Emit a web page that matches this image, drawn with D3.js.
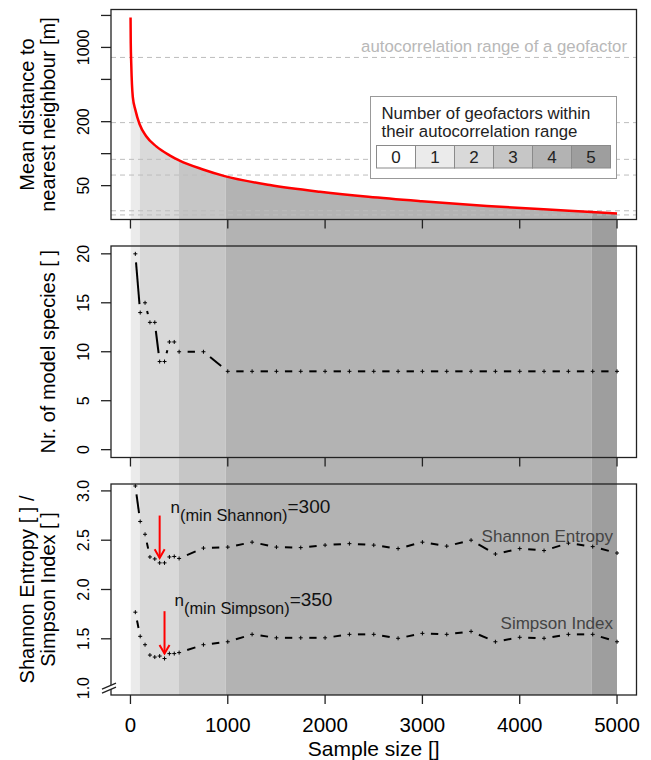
<!DOCTYPE html>
<html>
<head>
<meta charset="utf-8">
<script src="https://cdn.jsdelivr.net/npm/d3@7"></script>
<style>
  body { margin: 0; background: #fff; }
  svg { font-family: 'Liberation Sans', Arial, sans-serif; }
</style>
</head>
<body>
<svg width="651" height="760"></svg>
<script>
// sample sizes of the model runs
const sampleSizes = [50,100,150,200,250,300,350,400,450,500,750,1000,1250,1500,1750,2000,2250,2500,2750,3000,3250,3500,3750,4000,4250,4500,4750,5000];
const nrSpecies = [20,14,15,13,13,9,9,11,11,10,10,8,8,8,8,8,8,8,8,8,8,8,8,8,8,8,8,8];
const shannon = [3.05,2.69,2.56,2.33,2.31,2.27,2.27,2.33,2.335,2.315,2.42,2.43,2.48,2.43,2.425,2.45,2.465,2.45,2.415,2.48,2.44,2.50,2.36,2.415,2.395,2.47,2.435,2.37];
const simpson = [1.77,1.525,1.44,1.335,1.315,1.325,1.30,1.35,1.35,1.36,1.44,1.47,1.545,1.51,1.51,1.51,1.545,1.545,1.505,1.555,1.545,1.575,1.47,1.515,1.505,1.545,1.545,1.47];

// mean distance to nearest neighbour [m]
const distN = [1,3,8,24,51,93,162,265,402,505,745,968,1432,1946,2444,2994,3663,4246,4693,5000];
const distM = [1915,1100,707,343,257,190,146,117,96.5,86,71,61.5,50.7,43.8,39.2,35.6,32.2,29.9,28.4,27.4];

// autocorrelation ranges of the geofactors [m]
const autocorRanges = [805,196,88.4,62.9,29.0,26.5];

// number of geofactors within their autocorrelation range along the sample size
const levelBreaks = [0,97,498,978,4737,5000];
const levelValues = [1,2,3,4,5];
const legendLevels = [0,1,2,3,4,5];
const levelColors = ['#ffffff','#ebebeb','#d9d9d9','#c6c6c6','#b3b3b3','#9e9e9e'];

const xTicks = [0,1000,2000,3000,4000,5000];
const distTicks = [2000,1000,500,200,100,50];
const distTickLabels = ['', '1000', '', '200', '', '50'];
const speciesTicks = [0,5,10,15,20];
const diversityTicks = [1.5,2,2.5,3];

const minShannon = 300;
const minSimpson = 350;

function whenLoaded(){

    const svg = d3.select('svg');

    const boxLeft = 111, boxRight = 636.5;
    const panels = [
        {top: 9.5, bottom: 219.5},
        {top: 246, bottom: 457.5},
        {top: 484, bottom: 695}
    ];
    const tickLen = 9;

    const xScale = d3.scaleLinear()
    .domain([-200,5200])
    .range([boxLeft,boxRight]);

    const yDist = d3.scaleLog()
    .domain([24.0,2275])
    .range([panels[0].bottom,panels[0].top]);

    const ySpecies = d3.scaleLinear()
    .domain([-0.8,20.8])
    .range([panels[1].bottom,panels[1].top]);

    const yDiv = d3.scaleLinear()
    .domain([0.93,3.07])
    .range([panels[2].bottom,panels[2].top]);

    // shading under the distance curve, running down through all panels
    const underCurve = d3.area()
    .x((d,i) => xScale(distN[i]))
    .y0(panels[2].bottom)
    .y1(d => yDist(d))
    .curve(d3.curveMonotoneX);

    svg.append('clipPath')
    .attr('id','under-curve')
    .append('path')
    .attr('d',underCurve(distM));

    svg.append('g')
    .attr('clip-path','url(#under-curve)')
    .selectAll('rect')
    .data(levelValues)
    .enter()
    .append('rect')
    .attr('x',(d,i) => xScale(levelBreaks[i]))
    .attr('width',(d,i) => xScale(levelBreaks[i+1]) - xScale(levelBreaks[i]))
    .attr('y',0)
    .attr('height',panels[2].bottom)
    .attr('fill',d => levelColors[d]);

    // autocorrelation ranges
    svg.append('g')
    .selectAll('line')
    .data(autocorRanges)
    .enter()
    .append('line')
    .attr('x1',boxLeft).attr('x2',boxRight)
    .attr('y1',d => yDist(d)).attr('y2',d => yDist(d))
    .attr('stroke','#bdbdbd')
    .attr('stroke-width',1)
    .attr('stroke-dasharray','5,4');

    svg.append('text')
    .attr('x',627)
    .attr('y',52)
    .attr('text-anchor','end')
    .attr('font-size',16.8)
    .attr('fill','#b8b8b8')
    .text('autocorrelation range of a geofactor');

    // distance curve
    const distLine = d3.line()
    .x((d,i) => xScale(distN[i]))
    .y(d => yDist(d))
    .curve(d3.curveMonotoneX);

    svg.append('path')
    .attr('d',distLine(distM))
    .attr('fill','none')
    .attr('stroke','#ff0000')
    .attr('stroke-width',2.5);

    // legend
    const lg = svg.append('g');
    lg.append('rect')
    .attr('x',370.5).attr('y',96.5)
    .attr('width',246).attr('height',82)
    .attr('fill','#fff')
    .attr('stroke','#999');
    lg.append('text')
    .attr('x',381.5).attr('y',118.5)
    .attr('font-size',16.8).attr('fill','#222')
    .text('Number of geofactors within');
    lg.append('text')
    .attr('x',381.5).attr('y',137)
    .attr('font-size',16.8).attr('fill','#222')
    .text('their autocorrelation range');

    const cellX = d3.scaleBand()
    .domain(legendLevels)
    .range([376.5,610.5]);

    lg.selectAll('rect.cell')
    .data(legendLevels)
    .enter()
    .append('rect')
    .attr('class','cell')
    .attr('x',d => cellX(d)).attr('y',145.5)
    .attr('width',cellX.bandwidth()).attr('height',22.5)
    .attr('fill',d => levelColors[d])
    .attr('stroke','#8a8a8a');

    lg.selectAll('text.cell')
    .data(legendLevels)
    .enter()
    .append('text')
    .attr('class','cell')
    .attr('x',d => cellX(d) + cellX.bandwidth()/2)
    .attr('y',163)
    .attr('text-anchor','middle')
    .attr('font-size',17).attr('fill','#222')
    .text(d => d);

    // type "b" line: segments stopped short of the points, then the points
    const drawTypeB = (values, yScale) => {
        const g = svg.append('g');
        const gap = 8.5;
        const pts = values.map((v,i) => [xScale(sampleSizes[i]), yScale(v)]);
        for (let i = 0; i < pts.length - 1; i++) {
            const [x0,y0] = pts[i], [x1,y1] = pts[i+1];
            const len = Math.hypot(x1-x0,y1-y0);
            if (len <= 2*gap) continue;
            const ux = (x1-x0)/len, uy = (y1-y0)/len;
            g.append('line')
            .attr('x1',x0+ux*gap).attr('y1',y0+uy*gap)
            .attr('x2',x1-ux*gap).attr('y2',y1-uy*gap)
            .attr('stroke','#000')
            .attr('stroke-width',2);
        }
        g.selectAll('path')
        .data(pts)
        .enter()
        .append('path')
        .attr('d',d => `M${d[0]-2},${d[1]}H${d[0]+2}M${d[0]},${d[1]-2}V${d[1]+2}`)
        .attr('stroke','#000')
        .attr('stroke-width',1);
    };

    drawTypeB(nrSpecies,ySpecies);
    drawTypeB(shannon,yDiv);
    drawTypeB(simpson,yDiv);

    // minimum arrows and labels
    const arrow = (n,v) => {
        const x = xScale(n);
        const yTop = yDiv(v + 0.48), yTip = yDiv(v + 0.05);
        svg.append('line')
        .attr('x1',x).attr('x2',x).attr('y1',yTop).attr('y2',yTip)
        .attr('stroke','#ff0000').attr('stroke-width',2);
        svg.append('path')
        .attr('d',`M${x-5},${yTip-8.7}L${x},${yTip}L${x+5},${yTip-8.7}`)
        .attr('fill','none')
        .attr('stroke','#ff0000').attr('stroke-width',2);
    };
    arrow(minShannon,shannon[sampleSizes.indexOf(minShannon)]);
    arrow(minSimpson,simpson[sampleSizes.indexOf(minSimpson)]);

    const nLabel = (x,y,sub,val) => {
        const t = svg.append('text')
        .attr('x',x).attr('y',y)
        .attr('fill','#111');
        t.append('tspan').attr('font-size',17).text('n');
        t.append('tspan').attr('font-size',16.4).attr('dy',8).text(sub);
        t.append('tspan').attr('font-size',19).attr('dy',-8).text('=' + val);
    };
    nLabel(170.5,513,'(min Shannon)',minShannon);
    nLabel(174.5,606,'(min Simpson)',minSimpson);

    svg.append('text')
    .attr('x',613).attr('y',542)
    .attr('text-anchor','end')
    .attr('font-size',17).attr('fill','#444')
    .text('Shannon Entropy');

    svg.append('text')
    .attr('x',613).attr('y',629)
    .attr('text-anchor','end')
    .attr('font-size',17).attr('fill','#444')
    .text('Simpson Index');

    // panel boxes and x ticks
    panels.forEach(p => {
        svg.append('rect')
        .attr('x',boxLeft).attr('y',p.top)
        .attr('width',boxRight-boxLeft).attr('height',p.bottom-p.top)
        .attr('fill','none')
        .attr('stroke','#222')
        .attr('stroke-width',1.3);

        svg.append('g')
        .selectAll('line')
        .data(xTicks)
        .enter()
        .append('line')
        .attr('x1',d => xScale(d)).attr('x2',d => xScale(d))
        .attr('y1',p.bottom).attr('y2',p.bottom + tickLen)
        .attr('stroke','#222')
        .attr('stroke-width',1.3);
    });

    svg.append('g')
    .selectAll('text')
    .data(xTicks)
    .enter()
    .append('text')
    .attr('x',d => xScale(d))
    .attr('y',732)
    .attr('text-anchor','middle')
    .attr('font-size',20.5)
    .text(d => d);

    svg.append('text')
    .attr('x',xScale(2500))
    .attr('y',756)
    .attr('text-anchor','middle')
    .attr('font-size',21)
    .text('Sample size []');

    // y axes
    const yAxis = (ticks,labels,scale) => {
        const g = svg.append('g');
        g.selectAll('line')
        .data(ticks)
        .enter()
        .append('line')
        .attr('x1',boxLeft - tickLen - 1).attr('x2',boxLeft)
        .attr('y1',d => scale(d)).attr('y2',d => scale(d))
        .attr('stroke','#222')
        .attr('stroke-width',1.3);
        g.selectAll('text')
        .data(ticks)
        .enter()
        .append('text')
        .attr('transform',d => `translate(88.5,${scale(d)}) rotate(-90)`)
        .attr('text-anchor','middle')
        .attr('font-size',16)
        .text((d,i) => labels[i]);
    };
    yAxis(distTicks,distTickLabels,yDist);
    yAxis(speciesTicks,speciesTicks.map(d => d),ySpecies);
    yAxis(diversityTicks,diversityTicks.map(d => d3.format('.1f')(d)),yDiv);

    // axis break at 1.0
    const yBreak = yDiv(1);
    svg.append('text')
    .attr('transform',`translate(88.5,${yBreak}) rotate(-90)`)
    .attr('text-anchor','middle')
    .attr('font-size',16)
    .text('1.0');
    svg.append('path')
    .attr('d',`M102,${yBreak+5}L116,${yBreak-1}L116,${yBreak-5}L102,${yBreak+1}Z`)
    .attr('fill','#fff');
    [-2,2].forEach(o => {
        svg.append('line')
        .attr('x1',102).attr('y1',yBreak + o + 3)
        .attr('x2',116).attr('y2',yBreak + o - 3)
        .attr('stroke','#222')
        .attr('stroke-width',1.3);
    });

    // y axis titles
    const yTitle = (lines,p) => {
        const cy = (p.top + p.bottom)/2;
        const xs = lines.length === 2 ? [33.5,54.5] : [54.5];
        lines.forEach((t,i) => {
            svg.append('text')
            .attr('transform',`translate(${xs[i]},${cy}) rotate(-90)`)
            .attr('text-anchor','middle')
            .attr('font-size',20)
            .text(t);
        });
    };
    yTitle(['Mean distance to','nearest neighbour [m]'],panels[0]);
    yTitle(['Nr. of model species [ ]'],panels[1]);
    yTitle(['Shannon Entropy [ ] /','Simpson Index [ ]'],panels[2]);
}

window.onload = whenLoaded;
</script>
</body>
</html>
